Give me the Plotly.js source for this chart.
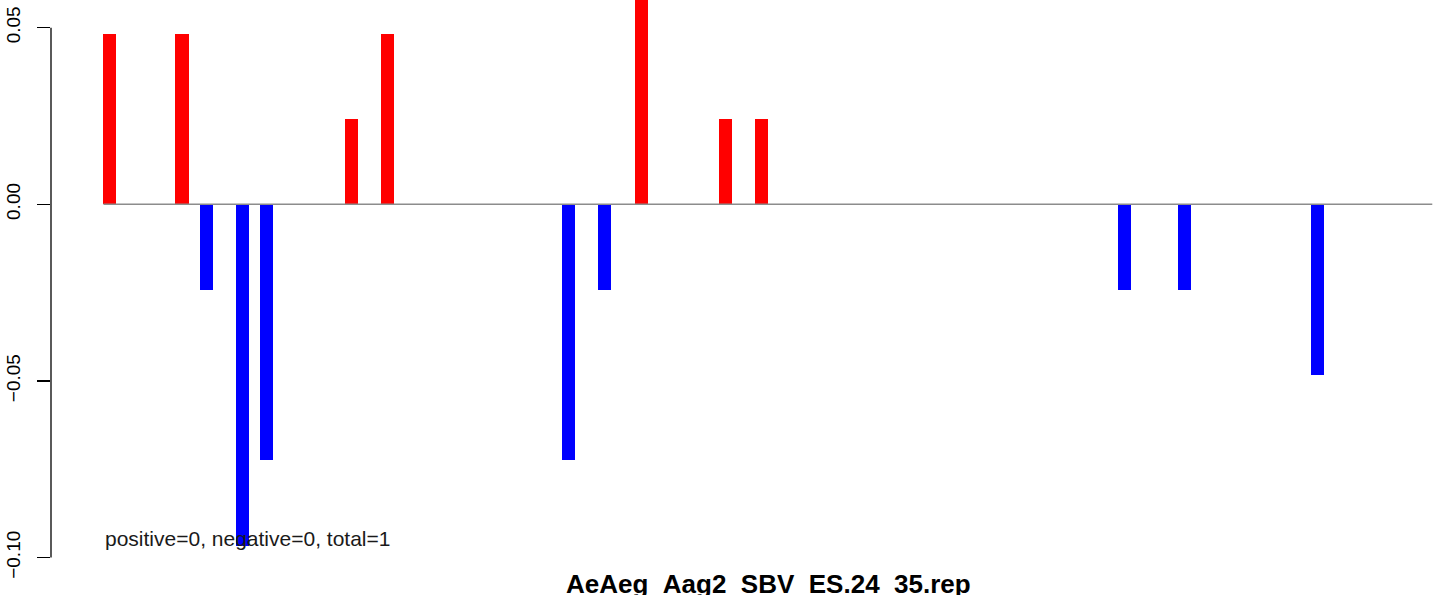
<!DOCTYPE html>
<html>
<head>
<meta charset="utf-8">
<script src="https://cdn.plot.ly/plotly-3.0.1.min.js"></script>
<style>html,body{margin:0;padding:0;background:#fff;}#chart{width:1444px;height:595px;}</style>
</head>
<body>
<div id="chart"></div>
<script>
// Data
const positions = [1, 7, 9, 12, 14, 21, 24, 39, 42, 45, 52, 55, 85, 90, 101];
const values = [0.0483, 0.0483, -0.0242, -0.0966, -0.0725, 0.0242, 0.0483, -0.0725, -0.0242, 0.0725, 0.0242, 0.0242, -0.0242, -0.0242, -0.0483];
const baselineExtent = [0.5, 110.5];
const yTickVals = [-0.10, -0.05, 0.00, 0.05];
const yTickText = ["\u22120.10", "\u22120.05", "0.00", "0.05"];
const chartTitle = "AeAeg_Aag2_SBV_ES.24_35.rep";
const noteText = "positive=0, negative=0, total=1";

const FONT = "Liberation Sans, Arial, Helvetica, sans-serif";

const bars = {
  type: "bar",
  x: positions,
  y: values,
  width: 1.08,
  marker: {color: values.map(v => v >= 0 ? "#ff0000" : "#0000ff"), line: {width: 0}},
  hoverinfo: "x+y",
  showlegend: false
};

const zeroLine = {
  type: "scatter",
  mode: "lines",
  x: baselineExtent,
  y: [0, 0],
  line: {color: "#8c8c8c", width: 1.5},
  hoverinfo: "skip",
  showlegend: false
};

const layout = {
  width: 1444,
  height: 595,
  margin: {l: 51, r: 0, t: 0, b: 0, pad: 0},
  paper_bgcolor: "#ffffff",
  plot_bgcolor: "#ffffff",
  font: {family: FONT, color: "#000"},
  showlegend: false,
  bargap: 0,
  xaxis: {
    range: [-3.843, 111.47],
    showgrid: false, zeroline: false, showline: false,
    showticklabels: false, ticks: ""
  },
  yaxis: {
    range: [-0.11058, 0.05783],
    showgrid: false, zeroline: false, showline: false,
    tickmode: "array",
    tickvals: yTickVals,
    ticktext: yTickText,
    ticks: "outside",
    ticklen: 13,
    tickwidth: 1.3,
    tickcolor: "#000",
    tickangle: -90,
    ticklabelstandoff: 9,
    tickfont: {family: FONT, size: 19, color: "#000"}
  },
  shapes: [{
    type: "line",
    xref: "paper", yref: "y",
    x0: 0, x1: 0,
    y0: yTickVals[0], y1: yTickVals[yTickVals.length - 1],
    line: {color: "#000", width: 1.3}
  }],
  annotations: [
    {
      text: noteText,
      xref: "x", yref: "y",
      x: baselineExtent[0], y: -0.0955,
      yshift: 3,
      xanchor: "left", yanchor: "middle",
      showarrow: false,
      font: {family: FONT, size: 21, color: "#1a1a1a"}
    },
    {
      text: "<b>" + chartTitle + "</b>",
      xref: "paper", yref: "paper",
      x: (768 - 51) / (1444 - 51), y: 0,
      xanchor: "center", yanchor: "top",
      yshift: 28,
      showarrow: false,
      font: {family: FONT, size: 26, color: "#000"}
    }
  ]
};

Plotly.newPlot("chart", [bars, zeroLine], layout, {displayModeBar: false, staticPlot: true});
</script>
</body>
</html>
